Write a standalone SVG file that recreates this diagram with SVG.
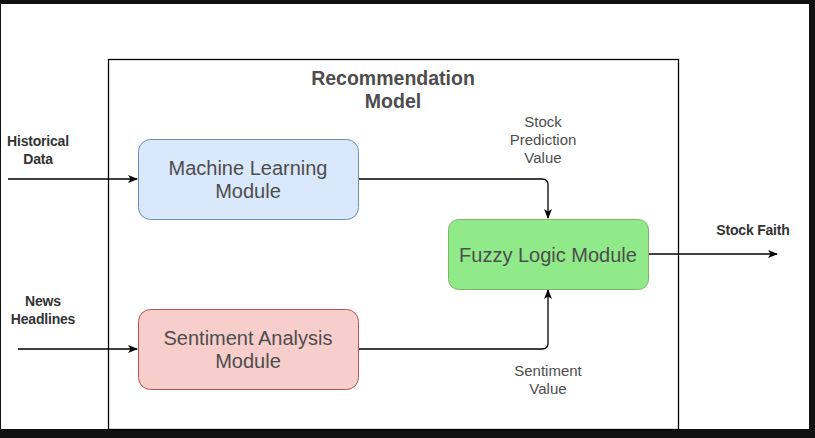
<svg xmlns="http://www.w3.org/2000/svg" width="815" height="438" viewBox="0 0 815 438">
<defs>
<marker id="arr" viewBox="0 0 10 10" refX="9" refY="5" markerWidth="10" markerHeight="10" markerUnits="userSpaceOnUse" orient="auto">
<path d="M0,1 L10,5 L0,9 L2.5,5 Z" fill="#000"/>
</marker>
</defs>
<style>
.node{stroke-width:1}
.nt{font-family:"Liberation Sans",Arial,sans-serif;font-size:20px;fill:#4d4d4d;text-anchor:middle}
.lbl{font-family:"Liberation Sans",Arial,sans-serif;font-size:15px;fill:#4d4d4d;text-anchor:middle}
.io{font-family:"Liberation Sans",Arial,sans-serif;font-size:14px;font-weight:bold;fill:#333;text-anchor:middle;letter-spacing:-0.2px}
.ttl{font-family:"Liberation Sans",Arial,sans-serif;font-size:19.5px;font-weight:bold;fill:#4d4d4d;text-anchor:middle}
.conn{fill:none;stroke:#000;stroke-width:1.3}
</style>
<rect x="0" y="0" width="815" height="438" fill="#111"/>
<rect x="1" y="4" width="808" height="425" fill="#fff"/>
<g id="container">
<rect x="108.5" y="59.5" width="570" height="370" fill="#fff" stroke="#000" stroke-width="1.3"/>
<text class="ttl" x="393" y="85">Recommendation</text>
<text class="ttl" x="393" y="108">Model</text>
</g>
<g id="connectors">
<path class="conn" d="M8,179 H137" marker-end="url(#arr)"/>
<path class="conn" d="M18,349 H137" marker-end="url(#arr)"/>
<path class="conn" d="M358,179 H542 Q548,179 548,185 V218" marker-end="url(#arr)"/>
<path class="conn" d="M358,349 H542 Q548,349 548,343 V290" marker-end="url(#arr)"/>
<path class="conn" d="M648,254 H777" marker-end="url(#arr)"/>
</g>
<g id="ml">
<rect class="node" x="138.5" y="139.5" width="220" height="80" rx="12" fill="#dae8fc" stroke="#6c8ebf"/>
<text class="nt" x="248" y="175">Machine Learning</text>
<text class="nt" x="248" y="198">Module</text>
</g>
<g id="sa">
<rect class="node" x="138.5" y="309.5" width="220" height="80" rx="12" fill="#f8cecc" stroke="#b85450"/>
<text class="nt" x="248" y="345">Sentiment Analysis</text>
<text class="nt" x="248" y="368">Module</text>
</g>
<g id="fuzzy">
<rect class="node" x="448.5" y="219.5" width="200" height="70" rx="10" fill="#90ea8a" stroke="#82b366"/>
<text class="nt" x="548" y="262">Fuzzy Logic Module</text>
</g>
<g id="labels">
<text class="lbl" x="543" y="127">Stock</text>
<text class="lbl" x="543" y="145">Prediction</text>
<text class="lbl" x="543" y="163">Value</text>
<text class="lbl" x="548" y="376">Sentiment</text>
<text class="lbl" x="548" y="394">Value</text>
<text class="io" x="38" y="146">Historical</text>
<text class="io" x="38" y="164">Data</text>
<text class="io" x="43" y="306">News</text>
<text class="io" x="43" y="324">Headlines</text>
<text class="io" x="753" y="235">Stock Faith</text>
</g>
</svg>
